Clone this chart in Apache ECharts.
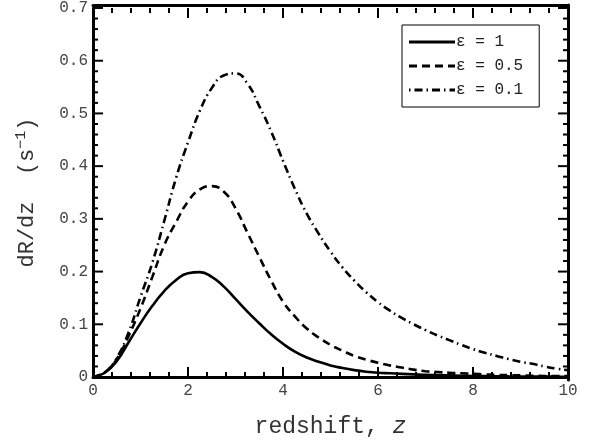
<!DOCTYPE html>
<html>
<head>
<meta charset="utf-8">
<script src="https://cdn.jsdelivr.net/npm/echarts@6/dist/echarts.min.js"></script>
<style>html,body{margin:0;padding:0;background:#fff;}#c{width:592px;height:443px;}</style>
</head>
<body>
<div id="c"></div>
<script>
const redshift = [0,0.25,0.5,0.75,1,1.25,1.5,1.75,2,2.25,2.5,2.75,3,3.25,3.5,3.75,4,4.25,4.5,4.75,5,5.25,5.5,5.75,6,6.25,6.5,6.75,7,7.25,7.5,7.75,8,8.25,8.5,8.75,9,9.25,9.5,9.75,10];
const eps1   = [0,0.008,0.03,0.066,0.102,0.135,0.163,0.184,0.197,0.199,0.19,0.172,0.148,0.124,0.102,0.081,0.063,0.048,0.037,0.029,0.022,0.017,0.013,0.010,0.008,0.007,0.006,0.005,0.004,0.0035,0.003,0.0025,0.002,0.0018,0.0015,0.0012,0.001,0.0009,0.0008,0.0006,0.0005];
const eps05  = [0,0.009,0.034,0.078,0.13,0.19,0.25,0.294,0.333,0.356,0.362,0.352,0.32,0.274,0.228,0.183,0.143,0.115,0.092,0.075,0.061,0.05,0.04,0.033,0.027,0.022,0.018,0.014,0.011,0.0095,0.008,0.007,0.006,0.005,0.004,0.0035,0.003,0.0025,0.002,0.002,0.002];
const eps01  = [0,0.009,0.036,0.085,0.152,0.217,0.296,0.378,0.445,0.505,0.548,0.572,0.576,0.557,0.514,0.466,0.41,0.357,0.31,0.272,0.238,0.208,0.183,0.161,0.142,0.126,0.112,0.1,0.089,0.079,0.07,0.061,0.053,0.046,0.04,0.034,0.029,0.025,0.02,0.016,0.013];
const seriesNames = ['ε = 1','ε = 0.5','ε = 0.1'];
const xMajorTicks = [0,2,4,6,8,10];
const yMajorTicks = [0,0.1,0.2,0.3,0.4,0.5,0.6,0.7];
const minorPerMajor = 5;
const legendIcons = [
  'path://M0,0H46V3H0Z',
  'path://M0,0H8V3H0ZM13,0H21V3H13ZM26,0H34V3H26ZM39,0H46V3H39Z',
  'path://M0,0H1.5V3H0ZM5.5,0H13.5V3H5.5ZM17.5,0H19V3H17.5ZM23,0H31V3H23ZM35,0H36.5V3H35ZM40.5,0H46V3H40.5Z'
];

const pair = ys => redshift.map((z,i)=>[z, ys[i]]);
const font = 'Liberation Mono';
const chart = echarts.init(document.getElementById('c'));
const lineAx = () => ({show:true, lineStyle:{color:'#000', width:3}});
const noTicks = {axisTick:{show:false}, minorTick:{show:false}};
const hiddenAx = (gi) => ({type:'value', gridIndex:gi, min:1, max:2, show:false});
const fmtY = v => (v===0 ? '0' : v.toFixed(1));
const box = {left:93, right:24, top:5, bottom:63};
chart.setOption({
  animation:false,
  grid:[Object.assign({}, box), Object.assign({}, box), Object.assign({}, box)],
  legend:{
    orient:'vertical', left:402, top:25, width:125,
    borderColor:'#000', borderWidth:1, padding:[9,16,9,7],
    itemWidth:46, itemHeight:3, itemGap:8,
    textStyle:{fontFamily:font, fontSize:16, color:'#222', padding:[0,0,0,-4]},
    data:seriesNames.map((n,i)=>({name:n, icon:legendIcons[i]}))
  },
  xAxis:[Object.assign({
    type:'value', gridIndex:0, min:0, max:10, interval:2,
    name:'{a|redshift, }{b|z}', nameLocation:'middle', nameGap:38,
    nameTextStyle:{rich:{a:{fontFamily:font, fontSize:23, color:'#333'}, b:{fontFamily:font, fontSize:23, fontStyle:'italic', color:'#333'}}},
    axisLine:lineAx(),
    axisLabel:{fontFamily:font, fontSize:16, color:'#444', margin:6, formatter:v=>String(v)},
    splitLine:{show:false}
  }, noTicks), Object.assign({
    type:'value', gridIndex:1, min:0, max:10, interval:2, position:'top',
    axisLine:lineAx(), axisLabel:{show:false}, splitLine:{show:false}
  }, noTicks), hiddenAx(2)],
  yAxis:[Object.assign({
    type:'value', gridIndex:0, min:0, max:0.7, interval:0.1,
    name:'{a|dR/dz  (s}{s|−1}{a|)}', nameLocation:'middle', nameGap:52, nameRotate:90,
    nameTextStyle:{rich:{a:{fontFamily:font, fontSize:22, color:'#333'}, s:{fontFamily:font, fontSize:15, color:'#333', verticalAlign:'top', padding:[0,0,12,0]}}},
    axisLine:lineAx(),
    axisLabel:{fontFamily:font, fontSize:16, color:'#444', margin:5, formatter:fmtY},
    splitLine:{show:false}
  }, noTicks), hiddenAx(1), Object.assign({
    type:'value', gridIndex:2, min:0, max:0.7, interval:0.1, position:'right',
    axisLine:lineAx(), axisLabel:{show:false}, splitLine:{show:false}
  }, noTicks)],
  series:[
    {name:seriesNames[0], type:'line', xAxisIndex:0, yAxisIndex:0, data:pair(eps1), smooth:0.5, symbol:'none', lineStyle:{color:'#000', width:2.6, type:'solid'}, itemStyle:{color:'#000'}},
    {name:seriesNames[1], type:'line', xAxisIndex:0, yAxisIndex:0, data:pair(eps05), smooth:0.5, symbol:'none', lineStyle:{color:'#000', width:2.6, type:[8,5]}, itemStyle:{color:'#000'}},
    {name:seriesNames[2], type:'line', xAxisIndex:0, yAxisIndex:0, data:pair(eps01), smooth:0.5, symbol:'none', lineStyle:{color:'#000', width:2.6, type:[8,4,1.5,4]}, itemStyle:{color:'#000'}}
  ]
});

// Inward ticks on all four sides, positioned through the axes' own scales.
function tickValues(major) {
  const out = [];
  for (let i = 0; i < major.length; i++) {
    out.push({v: major[i], major: true});
    if (i < major.length - 1) {
      const step = (major[i+1] - major[i]) / minorPerMajor;
      for (let k = 1; k < minorPerMajor; k++) out.push({v: major[i] + k * step, major: false});
    }
  }
  return out;
}
const xLeft = chart.convertToPixel({xAxisIndex:0}, xMajorTicks[0]);
const xRight = chart.convertToPixel({xAxisIndex:0}, xMajorTicks[xMajorTicks.length-1]);
const yBottom = chart.convertToPixel({yAxisIndex:0}, yMajorTicks[0]);
const yTop = chart.convertToPixel({yAxisIndex:0}, yMajorTicks[yMajorTicks.length-1]);
const tickEls = [];
const mk = (x1,y1,x2,y2) => ({type:'line', silent:true, z:10, shape:{x1,y1,x2,y2}, style:{stroke:'#000', lineWidth:2}});
tickValues(xMajorTicks).forEach(t => {
  const px = chart.convertToPixel({xAxisIndex:0}, t.v);
  const len = t.major ? 10 : 5;
  tickEls.push(mk(px, yBottom, px, yBottom - len));
  tickEls.push(mk(px, yTop, px, yTop + len));
});
tickValues(yMajorTicks).forEach(t => {
  const py = chart.convertToPixel({yAxisIndex:0}, t.v);
  const len = t.major ? 10 : 5;
  tickEls.push(mk(xLeft, py, xLeft + len, py));
  tickEls.push(mk(xRight, py, xRight - len, py));
});
chart.setOption({graphic:{elements:tickEls}});
</script>
</body>
</html>
